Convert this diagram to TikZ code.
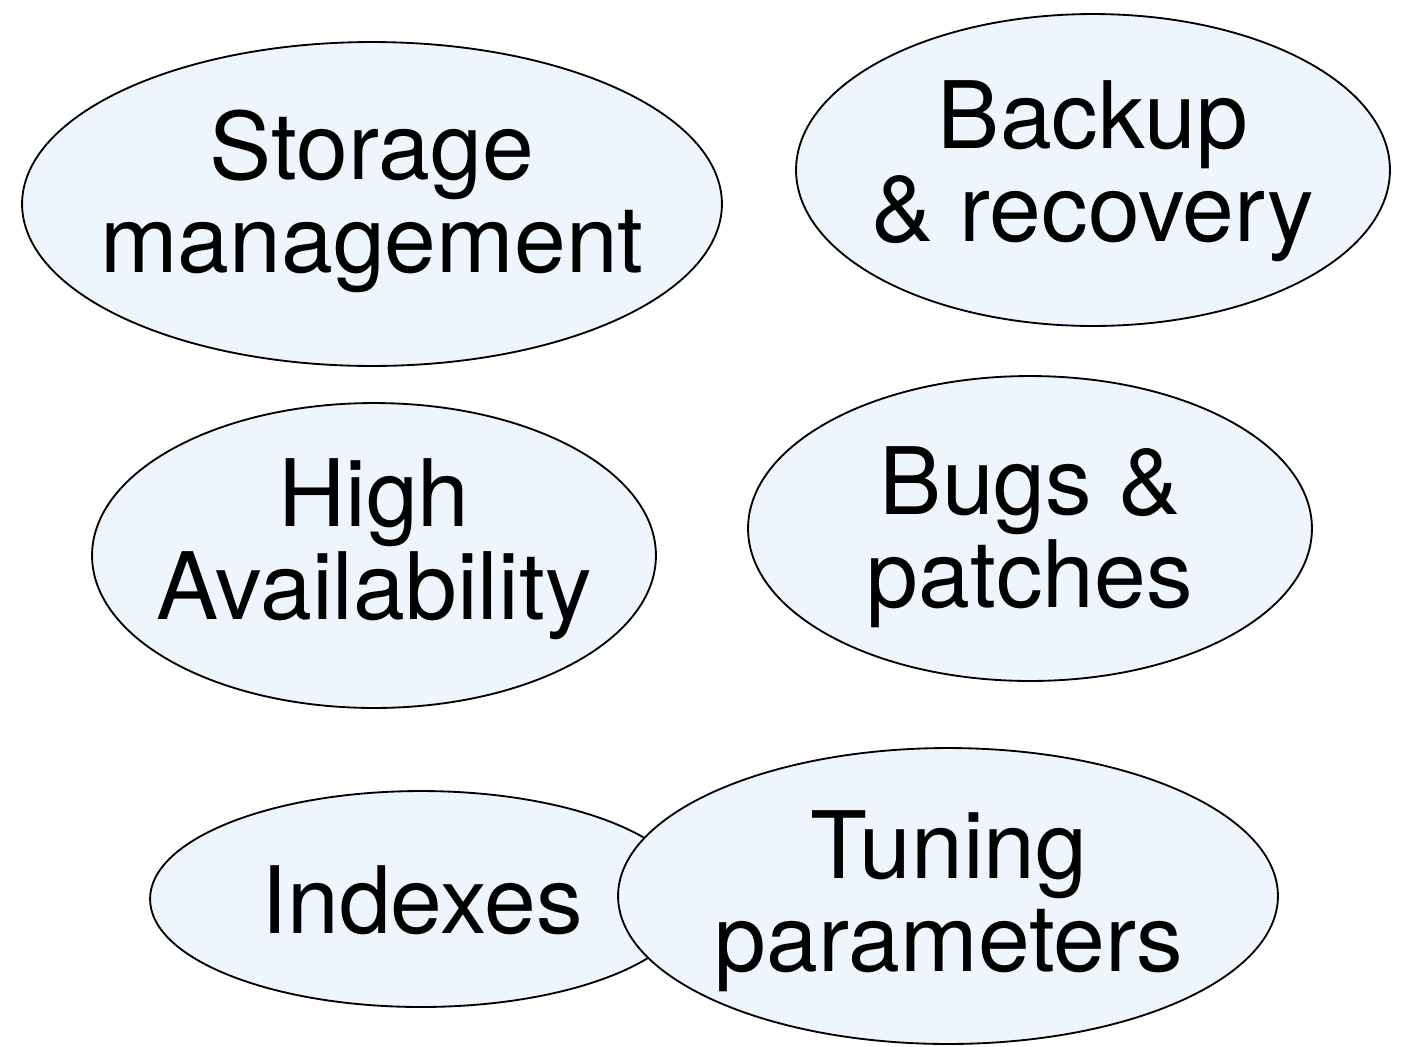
\documentclass[tikz,border=0pt]{standalone}
\usepackage{fontspec}
\setmainfont{TeX Gyre Heros}
\usetikzlibrary{shapes.geometric}
\definecolor{bubblefill}{RGB}{238,245,253}
\begin{document}
\begin{tikzpicture}[x=0.02cm,y=-0.02cm,
  bubble/.style={ellipse, draw=black, line width=1.05pt, fill=bubblefill, inner sep=0pt},
  lbl/.style={font=\fontsize{53}{53}\selectfont, align=center, inner sep=0pt, anchor=center}]
\useasboundingbox (0,0) rectangle (1403,1046);
\node[bubble, minimum width=14cm, minimum height=6.48cm] (storage) at (372,204) {};
\node[lbl] (storagetext) at (372,201.5) {Storage\\management};
\node[bubble, minimum width=11.88cm, minimum height=6.24cm] (backup) at (1093,170) {};
\node[lbl] (backuptext) at (1093,171.5) {Backup\\\& recovery};
\node[bubble, minimum width=11.28cm, minimum height=6.10cm] (ha) at (374,555.5) {};
\node[lbl] (hatext) at (374,549.5) {High\\Availability};
\node[bubble, minimum width=11.28cm, minimum height=6.10cm] (bugs) at (1030,528.5) {};
\node[lbl] (bugstext) at (1030,537.5) {Bugs \&\\patches};
\node[bubble, minimum width=10.84cm, minimum height=4.32cm] (indexes) at (421,899) {};
\node[lbl] (indexestext) at (422,900) {Indexes};
\node[bubble, minimum width=13.2cm, minimum height=5.92cm] (tuning) at (948,896) {};
\node[lbl] (tuningtext) at (949,901.5) {Tuning\\parameters};
\end{tikzpicture}
\end{document}
